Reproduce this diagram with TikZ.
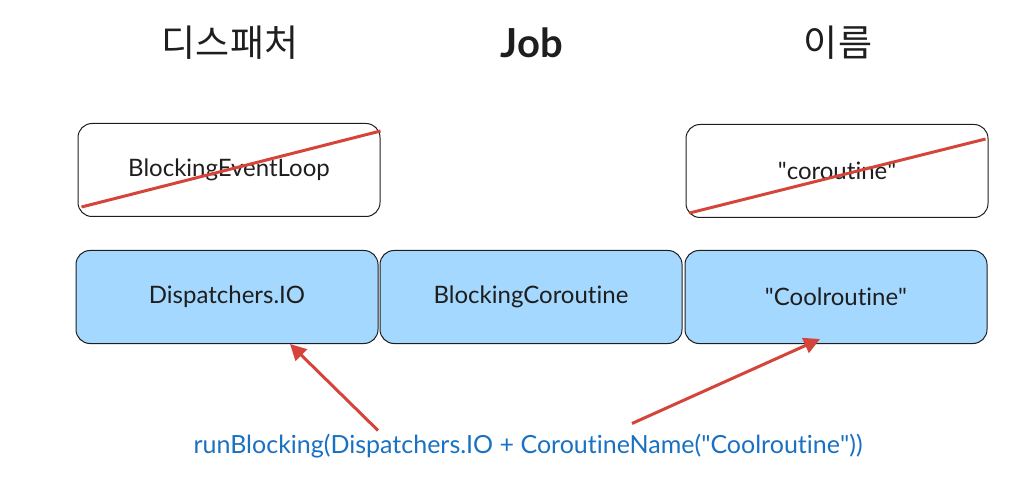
\documentclass[tikz,border=0pt]{standalone}
\usepackage{fontspec}
\setmainfont{Lato}[Ligatures={NoCommon}]
\newfontfamily\kofont{Noto Sans CJK KR}
\usetikzlibrary{arrows.meta}
\definecolor{boxblue}{HTML}{A5D8FF}
\definecolor{codeblue}{HTML}{1971C2}
\definecolor{crossred}{RGB}{212,68,58}
\definecolor{ink}{HTML}{1E1E1E}

\begin{document}
\begin{tikzpicture}[x=1pt,y=-1pt,
        box/.style={draw=ink, line width=1pt, rounded corners=14pt,
            minimum width=302pt, minimum height=93pt, text=ink,
            font=\fontsize{24}{28}\selectfont},
        bluebox/.style={box, fill=boxblue},
        title/.style={text=ink, font=\fontsize{40}{46}\selectfont},
        strike/.style={draw=crossred, line width=3pt},
        pointer/.style={draw=crossred, line width=3pt,
            -{Triangle[length=16pt,width=16pt]}}]

    \useasboundingbox (0,0) rectangle (1030,494);

    % titles
    \node[title] (dispatcher) at (230,43) {\kofont\fontsize{37}{42}\selectfont 디스패처};
    \node[title] (job) at (532,43) {\bfseries Job};
    \node[title] (name) at (838,43) {\kofont\fontsize{37}{42}\selectfont 이름};

    % old context
    \node[box] (eventloop) at (229,170) {BlockingEventLoop};
    \node[box] (oldname) at (837,171) {\textquotedbl coroutine\textquotedbl};

    \draw[strike] ([xshift=4pt,yshift=10pt]eventloop.south west)
        -- ([yshift=-8pt]eventloop.north east);
    \draw[strike] ([xshift=4pt,yshift=5pt]oldname.south west)
        -- ([xshift=-3pt,yshift=-15pt]oldname.north east);

    % new context
    \node[bluebox] (io) at (227,297) {Dispatchers.IO};
    \node[bluebox] (coroutine) at (531,297) {BlockingCoroutine};
    \node[bluebox] (coolname) at (836,297) {\textquotedbl Coolroutine\textquotedbl};

    \node[text=codeblue, font=\fontsize{25}{30}\selectfont] (call) at (528,446)
        {runBlocking(Dispatchers.IO + CoroutineName(\textquotedbl Coolroutine\textquotedbl))};

    \draw[pointer] ([xshift=-150pt]call.north) -- ([xshift=63pt]io.south);
    \draw[pointer] ([xshift=104pt,yshift=7pt]call.north) -- ([xshift=-16pt,yshift=5pt]coolname.south);

\end{tikzpicture}
\end{document}
